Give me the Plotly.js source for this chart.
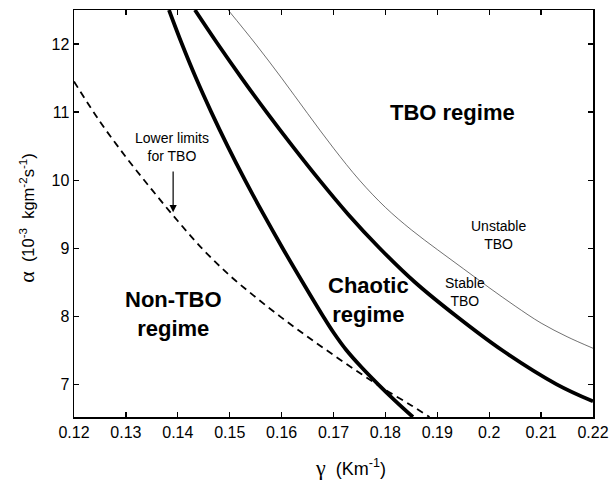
<!DOCTYPE html>
<html>
<head>
<meta charset="utf-8">
<script src="https://cdn.plot.ly/plotly-3.0.1.min.js"></script>
<style>html,body{margin:0;padding:0;background:#fff;}#chart{width:610px;height:495px;}</style>
</head>
<body>
<div id="chart"></div>
<script>
// Chaotic boundary (left thick solid)
const chaoticGamma = [0.1383, 0.1408, 0.1435, 0.14645, 0.1496, 0.15295, 0.1565, 0.1602, 0.16405, 0.1680, 0.1701, 0.1725, 0.1754, 0.1786, 0.1820, 0.1853];
const chaoticAlpha = [12.5, 12.0, 11.5, 11.0, 10.5, 10.0, 9.5, 9.0, 8.5, 8.0, 7.75, 7.5, 7.25, 7.0, 6.75, 6.52];
// Stable TBO boundary (right thick solid)
const stableGamma = [0.1433, 0.1477, 0.1523, 0.1571, 0.1621, 0.1673, 0.1728, 0.1789, 0.1857, 0.1937, 0.2025, 0.2130, 0.2200];
const stableAlpha = [12.5, 12.0, 11.5, 11.0, 10.5, 10.0, 9.5, 9.0, 8.5, 8.0, 7.5, 7.0, 6.75];
// Unstable TBO boundary (thin)
const unstableGamma = [0.1497, 0.155, 0.160, 0.165, 0.170, 0.175, 0.180, 0.185, 0.190, 0.195, 0.200, 0.205, 0.210, 0.215, 0.220];
const unstableAlpha = [12.5, 12.0, 11.5, 10.98, 10.47, 10.0, 9.6, 9.27, 8.98, 8.70, 8.42, 8.15, 7.90, 7.70, 7.53];
// Lower limits for TBO (dashed)
const lowerGamma = [0.12, 0.125, 0.13, 0.135, 0.14, 0.145, 0.15, 0.155, 0.16, 0.165, 0.17, 0.175, 0.18, 0.185, 0.1885];
const lowerAlpha = [11.45, 10.86, 10.34, 9.86, 9.40, 8.97, 8.60, 8.28, 7.98, 7.70, 7.43, 7.17, 6.92, 6.69, 6.52];

const xTicks = [0.12, 0.13, 0.14, 0.15, 0.16, 0.17, 0.18, 0.19, 0.2, 0.21, 0.22];
const xTickLabels = ['0.12', '0.13', '0.14', '0.15', '0.16', '0.17', '0.18', '0.19', '0.2', '0.21', '0.22'];
const yTicks = [7, 8, 9, 10, 11, 12];
const yTickLabels = ['7', '8', '9', '10', '11', '12'];

const FONT = 'Liberation Sans, Arial, sans-serif';
const GREEK = 'font-family:Liberation Serif, DejaVu Serif, serif;font-size:22px';

const traces = [
  {x: lowerGamma, y: lowerAlpha, mode: 'lines', line: {color: '#000', width: 1.8, dash: '7px,5px', shape: 'spline', smoothing: 1}},
  {x: chaoticGamma, y: chaoticAlpha, mode: 'lines', line: {color: '#000', width: 3.8, shape: 'spline', smoothing: 1}},
  {x: stableGamma, y: stableAlpha, mode: 'lines', line: {color: '#000', width: 3.8, shape: 'spline', smoothing: 1}},
  {x: unstableGamma, y: unstableAlpha, mode: 'lines', line: {color: '#333', width: 0.7, shape: 'spline', smoothing: 1}}
];

const ann = (x, y, text, size, bold) => ({
  x: x, y: y, xref: 'x', yref: 'y', text: bold ? '<b>' + text + '</b>' : text,
  showarrow: false, font: {family: FONT, size: size, color: '#000'}, align: 'center',
  xanchor: 'center', yanchor: 'middle'
});

const layout = {
  width: 610, height: 495,
  margin: {l: 74, r: 17, t: 10, b: 78},
  paper_bgcolor: '#fff', plot_bgcolor: '#fff',
  showlegend: false,
  font: {family: FONT, color: '#000'},
  xaxis: {
    range: [0.12, 0.22], tickvals: xTicks, ticktext: xTickLabels,
    ticks: 'inside', ticklen: 5, tickwidth: 1.2, tickcolor: '#000',
    showline: true, linecolor: '#000', linewidth: 1.5, mirror: 'ticks',
    showgrid: false, zeroline: false, tickfont: {family: FONT, size: 16}
  },
  yaxis: {
    range: [6.52, 12.5], tickvals: yTicks, ticktext: yTickLabels,
    ticks: 'inside', ticklen: 5, tickwidth: 1.2, tickcolor: '#000',
    showline: true, linecolor: '#000', linewidth: 1.5, mirror: 'ticks',
    showgrid: false, zeroline: false, tickfont: {family: FONT, size: 16}
  },
  annotations: [
    ann(0.1930, 10.99, 'TBO regime', 22, true),
    ann(0.1767, 8.24, 'Chaotic<br>regime', 22, true),
    ann(0.1391, 8.03, 'Non-TBO<br>regime', 22, true),
    ann(0.2017, 9.19, 'Unstable<br>TBO', 14, false),
    ann(0.1953, 8.35, 'Stable<br>TBO', 14, false),
    ann(0.1388, 10.49, 'Lower limits<br>for TBO', 14, false),
    {x: 0.1391, y: 9.53, ax: 0.1391, ay: 10.15, xref: 'x', yref: 'y', axref: 'x', ayref: 'y',
     text: '', showarrow: true, arrowhead: 2, arrowsize: 1.2, arrowwidth: 1.2, arrowcolor: '#000'},
    {x: 0.532, y: -0.125, xref: 'paper', yref: 'paper', showarrow: false, xanchor: 'center', yanchor: 'middle',
     text: '<span style="' + GREEK + '">γ</span>  (Km<sup>-1</sup>)', font: {family: FONT, size: 18, color: '#000'}},
    {x: -0.092, y: 0.49, xref: 'paper', yref: 'paper', showarrow: false, textangle: -90, xanchor: 'center', yanchor: 'middle',
     text: '<span style="' + GREEK + '">α</span>  (10<sup>-3</sup>  kgm<sup>-2</sup>s<sup>-1</sup>)', font: {family: FONT, size: 16.5, color: '#000'}}
  ]
};

Plotly.newPlot('chart', traces, layout, {staticPlot: true, displayModeBar: false});
</script>
</body>
</html>
